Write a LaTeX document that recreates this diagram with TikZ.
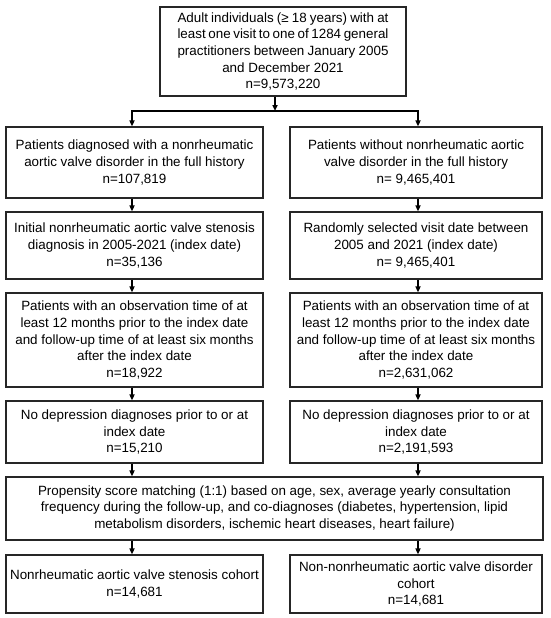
\documentclass[tikz,border=0pt]{standalone}
\usepackage{fontspec}
\setmainfont{Liberation Sans}
\usetikzlibrary{arrows.meta}
\tikzset{
  box/.style={draw=black!85, line width=1.2pt, inner sep=0pt, align=center,
    font=\fontsize{13.4}{16.7}\selectfont, text=black},
  lbox/.style={box, minimum width=257pt},
  rbox/.style={box, minimum width=252pt},
  conn/.style={draw=black, line width=1.6pt},
  arr/.style={conn, -{Triangle[length=6pt,width=5pt]}}
}
\begin{document}
\begin{tikzpicture}[x=1pt,y=-1pt]
\useasboundingbox (0,0) rectangle (550,618);
\fill[white] (0,0) rectangle (550,618);
% top box
\node[box, minimum width=246pt, minimum height=89pt] (top) at (283,51.5)
 {\makebox[211pt][s]{Adult individuals (≥ 18 years) with at}\\
  \makebox[211pt][s]{least one visit to one of 1284 general}\\
  \makebox[211pt][s]{practitioners between January 2005}\\
  and December 2021\\ n=9,573,220};
% left column
\node[lbox, minimum height=71pt] (L1) at (134.5,162.5)
 {Patients diagnosed with a nonrheumatic\\aortic valve disorder in the full history\\n=107,819};
\node[lbox, minimum height=67pt] (L2) at (134.5,245.5)
 {Initial nonrheumatic aortic valve stenosis\\diagnosis in 2005-2021 (index date)\\n=35,136};
\node[lbox, minimum height=94pt] (L3) at (134.5,340)
 {Patients with an observation time of at\\least 12 months prior to the index date\\and follow-up time of at least six months\\after the index date\\n=18,922};
\node[lbox, minimum height=62pt] (L4) at (134.5,432)
 {No depression diagnoses prior to or at\\index date\\n=15,210};
% right column
\node[rbox, minimum height=71pt] (R1) at (416,162.5)
 {Patients without nonrheumatic aortic\\valve disorder in the full history\\n= 9,465,401};
\node[rbox, minimum height=67pt] (R2) at (416,245.5)
 {Randomly selected visit date between\\2005 and 2021 (index date)\\n= 9,465,401};
\node[rbox, minimum height=94pt] (R3) at (416,340)
 {Patients with an observation time of at\\least 12 months prior to the index date\\and follow-up time of at least six months\\after the index date\\n=2,631,062};
\node[rbox, minimum height=62pt] (R4) at (416,432)
 {No depression diagnoses prior to or at\\index date\\n=2,191,593};
% wide box
\node[box, minimum width=537pt, minimum height=63pt] (W) at (274.5,508.5)
 {Propensity score matching (1:1) based on age, sex, average yearly consultation\\
  frequency during the follow-up, and co-diagnoses (diabetes, hypertension, lipid\\
  metabolism disorders, ischemic heart diseases, heart failure)};
% bottom boxes
\node[lbox, minimum height=58pt] (L5) at (134.5,584)
 {Nonrheumatic aortic valve stenosis cohort\\n=14,681};
\node[rbox, minimum height=58pt] (R5) at (416,584)
 {Non-nonrheumatic aortic valve disorder\\cohort\\n=14,681};
% connectors
\coordinate (lx) at (132,0);
\coordinate (rx) at (418,0);
\coordinate (sp) at (275,111);
\draw[arr] (top.south -| sp) -- (sp);
\draw[arr] (sp) -| (L1.north -| lx);
\draw[arr] (sp) -| (R1.north -| rx);
\draw[arr] (L1.south -| lx) -- (L2.north -| lx);
\draw[arr] (L2.south -| lx) -- (L3.north -| lx);
\draw[arr] (L3.south -| lx) -- (L4.north -| lx);
\draw[arr] (L4.south -| lx) -- (W.north -| lx);
\draw[arr] (W.south -| lx) -- (L5.north -| lx);
\draw[arr] (R1.south -| rx) -- (R2.north -| rx);
\draw[arr] (R2.south -| rx) -- (R3.north -| rx);
\draw[arr] (R3.south -| rx) -- (R4.north -| rx);
\draw[arr] (R4.south -| rx) -- (W.north -| rx);
\draw[arr] (W.south -| rx) -- (R5.north -| rx);
\end{tikzpicture}
\end{document}
